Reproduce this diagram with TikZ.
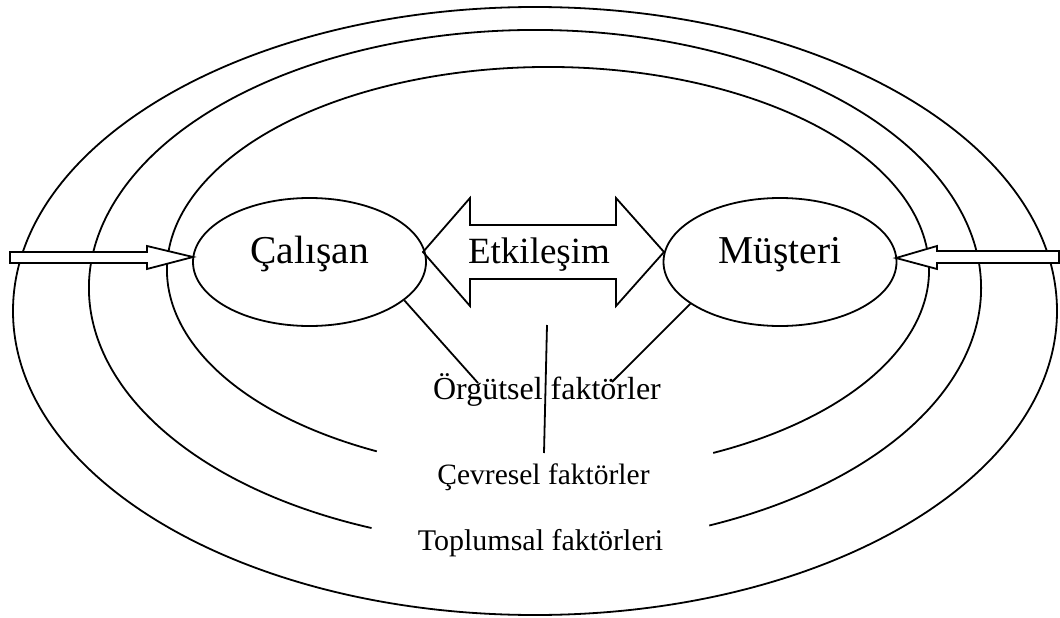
\documentclass[tikz,border=0pt]{standalone}
\usepackage{fontspec}
\setmainfont{Liberation Serif}
\usetikzlibrary{shapes.geometric,calc}
\begin{document}
\begin{tikzpicture}[x=1pt,y=1pt,
  ring/.style={line width=1.8pt},
  party/.style={ellipse, draw, line width=1.8pt, minimum width=233pt, minimum height=128pt,
    inner sep=0pt, font=\fontsize{39.5}{46}\selectfont, text height=13pt, text depth=11pt},
  blockarrow/.style={draw, fill=white, line width=1.8pt, line join=miter},
  factor/.style={anchor=base, inner sep=0pt},
  link/.style={line width=1.8pt}]
\useasboundingbox (0,0) rectangle (1060,-618);
% rings
\draw[ring] (535,-311) ellipse [x radius=522pt, y radius=304pt];
\draw[ring] ($(535,-288)+(248.5:446pt and 258pt)$) arc[start angle=248.5, end angle=-67, x radius=446pt, y radius=258pt];
\draw[ring] ($(548,-270)+(243.3:381pt and 203pt)$) arc[start angle=243.3, end angle=-64.3, x radius=381pt, y radius=203pt];
% block arrows from outside
\draw[blockarrow] (10,-252) -- (147,-252) -- (147,-246) -- (193,-257) -- (147,-269) -- (147,-263) -- (10,-263) -- cycle;
\draw[blockarrow] (1059,-251) -- (937,-251) -- (937,-246) -- (896,-258) -- (937,-269) -- (937,-263) -- (1059,-263) -- cycle;
% double arrow
\draw[blockarrow] (423,-252) -- (470,-198) -- (470,-225) -- (616,-225) -- (616,-198) -- (664,-252)
  -- (616,-306) -- (616,-279) -- (470,-279) -- (470,-306) -- cycle;
\node[factor, font=\fontsize{37}{44}\selectfont] (etk) at (539,-263) {Etkileşim};
% parties
\node[party] (cal) at (309.5,-262) {Çalışan};
\node[party] (mus) at (780,-262) {Müşteri};
% factor labels
\node[factor, font=\fontsize{32}{38}\selectfont] (org) at (547,-399) {Örgütsel faktörler};
\node[factor, font=\fontsize{29.5}{35}\selectfont] (cev) at (543.5,-484) {Çevresel faktörler};
\node[factor, font=\fontsize{30}{36}\selectfont] (top) at (540.5,-550) {Toplumsal faktörleri};
% links
\coordinate (l1) at (478,-383);
\coordinate (l2) at (612,-382);
\coordinate (v1) at (547,-325);
\coordinate (v2) at (544,-453);
\draw[link] (cal.-22) -- (l1);
\draw[link] (mus.205) -- (l2);
\draw[link] (v1) -- (v2);
\end{tikzpicture}
\end{document}
